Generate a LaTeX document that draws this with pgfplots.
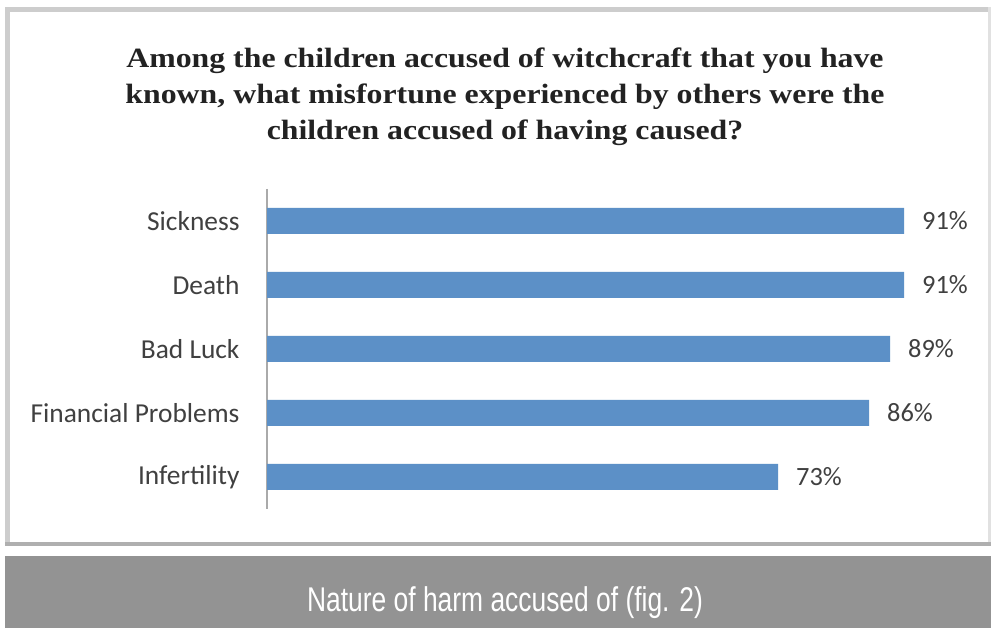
\documentclass[border=0pt]{standalone}
\usepackage{pgfplots}
\pgfplotsset{compat=1.18}
\usepackage{fontspec}
\setmainfont{Carlito}
\newfontfamily\titlefont{Liberation Serif}
\newfontfamily\capfont{Liberation Sans}
\definecolor{barblue}{RGB}{92,144,199}
\definecolor{txtgray}{RGB}{64,64,64}
\definecolor{framegray}{RGB}{205,205,205}
\definecolor{framedark}{RGB}{175,175,175}
\definecolor{capgray}{RGB}{147,147,147}
\begin{document}
\begin{tikzpicture}[x=1bp,y=1bp]
\useasboundingbox (0,0) rectangle (991,628);
\fill[white] (0,0) rectangle (991,628);
% outer frame
\fill[framegray] (5,628-12) rectangle (991,628-7);
\fill[framegray] (5,628-546) rectangle (10,628-7);
\fill[framegray!60] (988,628-546) rectangle (991,628-7);
\fill[framedark] (5,628-546) rectangle (991,628-542);
% caption bar
\fill[capgray] (5,0) rectangle (991,628-556);
\node[anchor=base, text=white, inner sep=0, yscale=1.3, font=\capfont\fontsize{26.5}{30}\selectfont] at (505,628-612) {Nature of harm accused of (fig. 2)};
% title
\begin{scope}[every node/.style={anchor=base, inner sep=0, xscale=1.14, text={rgb,255:red,34;green,34;blue,34}, font=\titlefont\bfseries\fontsize{28}{32}\selectfont}]
\node at (505,628-68) {Among the children accused of witchcraft that you have};
\node at (505,628-104) {known, what misfortune experienced by others were the};
\node at (505,628-140) {children accused of having caused?};
\end{scope}
\begin{axis}[
  at={(267bp,119bp)}, anchor=south west,
  scale only axis, width=700bp, height=320bp,
  xbar, bar width=26bp,
  xmin=0, xmax=100,
  ymin=-0.5, ymax=4.5,
  y dir=reverse,
  axis x line=none,
  axis y line*=left,
  y axis line style={draw={rgb,255:red,170;green,170;blue,170}, line width=1.5bp, -},
  ytick={0,1,2,3,4},
  yticklabels={Sickness,Death,Bad Luck,Financial Problems,Infertility},
  major tick length=0pt,
  yticklabel style={font=\fontsize{27.5}{32}\selectfont, text=txtgray, xshift=-24bp},
  nodes near coords={\pgfmathprintnumber[assume math mode=true]{\pgfplotspointmeta}\%},
  nodes near coords style={font=\fontsize{26.5}{30}\selectfont, text=txtgray, anchor=west, inner sep=0, xshift=18bp},
  point meta=x,
  clip=false,
]
\addplot[fill=barblue, draw=none] coordinates {(91,0) (91,1) (89,2) (86,3) (73,4)};
\end{axis}
\end{tikzpicture}
\end{document}
